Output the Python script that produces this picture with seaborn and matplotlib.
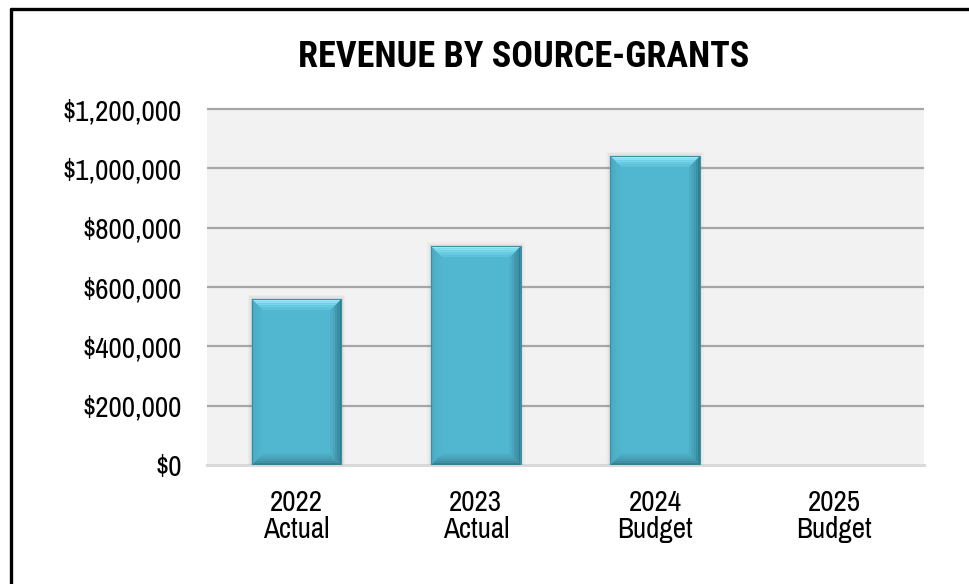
import matplotlib
matplotlib.use("Agg")
import matplotlib.pyplot as plt
from matplotlib import font_manager
from matplotlib.patches import Polygon, Rectangle
from matplotlib.lines import Line2D
from matplotlib.ticker import FuncFormatter
import seaborn as sns
import pandas as pd

# Grant revenue by fiscal year
years = ["2022", "2023", "2024", "2025"]
kinds = ["Actual", "Actual", "Budget", "Budget"]
grants = [560000, 738000, 1042000, 0]
y_ticks = [0, 200000, 400000, 600000, 800000, 1000000, 1200000]

labels = [f"{y}\n{k}" for y, k in zip(years, kinds)]
df = pd.DataFrame({"label": labels, "grants": grants})

sns.set_theme(style="white")

# pick narrow sans families; the title needs a real bold weight
weights = {}
for f in font_manager.fontManager.ttflist:
    w = f.weight if isinstance(f.weight, int) else 400
    weights.setdefault(f.name, set()).add(w)


def pick(order, need_bold):
    for name in order:
        if name in weights and (not need_bold or max(weights[name]) >= 700):
            return name
    return "DejaVu Sans"


body_font = pick(["Liberation Sans Narrow", "Arial Narrow", "Archivo Narrow",
                  "Roboto Condensed", "PT Sans Narrow", "Liberation Sans"], False)
title_font = pick(["Liberation Sans Narrow", "Arial Narrow", "Roboto Condensed",
                   "Archivo Narrow", "PT Sans Narrow", "Liberation Sans"], True)
plt.rcParams["font.family"] = [body_font, "DejaVu Sans"]

W, H = 969, 584
fig = plt.figure(figsize=(W / 100, H / 100), dpi=100)
fig.patch.set_facecolor("white")
ax = fig.add_axes([207 / W, 1 - 465 / H, 717 / W, 356 / H])
ax.set_facecolor("#f2f2f2")

bar_color = "#51b6cf"
sns.barplot(data=df, x="label", y="grants", color=bar_color, width=0.5,
            saturation=1, ax=ax, zorder=3, edgecolor="none")

ax.set_xlim(-0.5, len(labels) - 0.5)
ax.set_ylim(y_ticks[0], y_ticks[-1])
ax.set_yticks(y_ticks)
ax.yaxis.set_major_formatter(FuncFormatter(lambda v, _: f"${v:,.0f}"))
ax.set_xlabel("")
ax.set_ylabel("")
ax.tick_params(axis="both", length=0, labelsize=21, colors="black")
ax.tick_params(axis="y", pad=18)
ax.tick_params(axis="x", pad=17)
for t in ax.get_xticklabels():
    t.set_linespacing(1.0)

for s in ["top", "right", "left"]:
    ax.spines[s].set_visible(False)
ax.spines["bottom"].set_color("#d9d9d9")
ax.spines["bottom"].set_linewidth(2.2)
ax.spines["bottom"].set_zorder(2)

ax.hlines(y_ticks[1:], -0.5, len(labels) - 0.5, colors="#a6a6a6",
          linewidth=1.6, zorder=1, clip_on=False)

# Bevelled bar faces, sized in pixels
fig.canvas.draw()
to_disp = ax.transData
to_data = ax.transData.inverted()


def px(x, y):
    return to_data.transform((x, y))


def band(pts_outer, pts_inner, colors, z=4):
    """Fill a bevel strip between an outer and inner edge with stepped colours."""
    n = len(colors)
    (a0, a1), (b0, b1) = pts_outer, pts_inner
    for i, c in enumerate(colors):
        t0, t1 = i / n, (i + 1) / n
        p0 = (a0[0] + (b0[0] - a0[0]) * t0, a0[1] + (b0[1] - a0[1]) * t0)
        p1 = (a1[0] + (b1[0] - a1[0]) * t0, a1[1] + (b1[1] - a1[1]) * t0)
        p2 = (a1[0] + (b1[0] - a1[0]) * t1, a1[1] + (b1[1] - a1[1]) * t1)
        p3 = (a0[0] + (b0[0] - a0[0]) * t1, a0[1] + (b0[1] - a0[1]) * t1)
        ax.add_patch(Polygon([px(*p0), px(*p1), px(*p2), px(*p3)], closed=True,
                             facecolor=c, edgecolor="none", zorder=z))


for p in list(ax.patches):
    h = p.get_height()
    if h <= 0:
        continue
    x0, y0 = p.get_x(), p.get_y()
    x1, y1 = x0 + p.get_width(), y0 + h
    X0, Y0 = to_disp.transform((x0, y0))
    X1, Y1 = to_disp.transform((x1, y1))
    b = 11
    # soft shadow
    for k, a in [(4, 0.05), (2.5, 0.08), (1.2, 0.14)]:
        sx0, sy0 = px(X0 - k, Y0 - k)
        sx1, sy1 = px(X1 + k, Y1 + k)
        ax.add_patch(Rectangle((sx0, sy0), sx1 - sx0, sy1 - sy0,
                               facecolor="#7f7f7f", alpha=a, edgecolor="none", zorder=2.5))
    # left bevel (subtle)
    band(((X0, Y1), (X0, Y0)), ((X0 + b, Y1 - b), (X0 + b, Y0 + b)),
         ["#4aa9c1", "#4daec7", "#4fb2cb", "#50b4cd"])
    # right bevel (dark at the edge)
    band(((X1, Y1), (X1, Y0)), ((X1 - b, Y1 - b), (X1 - b, Y0 + b)),
         ["#2f7f93", "#3a8ea3", "#4299ae", "#48a4ba", "#4dadc6"])
    # bottom bevel (dark)
    band(((X0, Y0), (X1, Y0)), ((X0 + b, Y0 + b), (X1 - b, Y0 + b)),
         ["#377f92", "#3e8ea2", "#4498ad", "#49a3b9", "#4dacc4"])
    # top bevel (light)
    band(((X0, Y1), (X1, Y1)), ((X0 + b, Y1 - b), (X1 - b, Y1 - b)),
         ["#95ecf8", "#86e2f3", "#77d7ec", "#69cce3", "#5dc2da"])
    # outline
    ax.add_patch(Rectangle((x0, y0), x1 - x0, h, facecolor="none",
                           edgecolor="#3a8ea3", linewidth=0.7, zorder=5))

fig.text(524 / W, 1 - 57 / H, "REVENUE BY SOURCE-GRANTS", ha="center", va="center",
         fontsize=26, fontweight="bold", color="black",
         family=[title_font, "DejaVu Sans"])

# outer frame
fig.add_artist(Line2D([11 / W, 1.01], [1 - 9 / H, 1 - 9 / H], color="black", linewidth=2.4))
fig.add_artist(Line2D([11 / W, 11 / W], [-0.01, 1 - 9 / H], color="black", linewidth=2.4))

fig.savefig("out.png", dpi=100)
